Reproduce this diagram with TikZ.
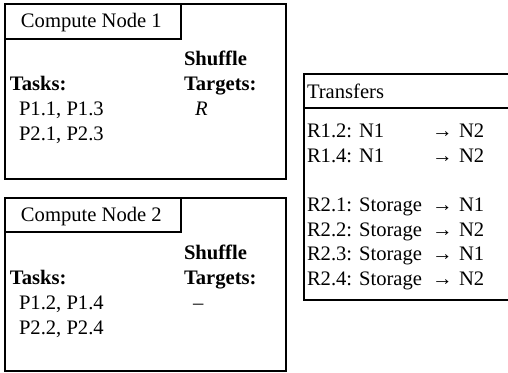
\documentclass[tikz,border=0pt]{standalone}
\usepackage{fontspec}
\setmainfont{Liberation Serif}
\usepackage{tikz}
\usetikzlibrary{positioning}
\tikzset{%
	box line/.style={
		draw,
		line width=1pt
	},
	cell text/.style={
		inner sep=0pt,
		outer sep=0pt,
		anchor=base west,
		font=\fontsize{15.45}{18.5}\selectfont
	},
}

\begin{document}
\begin{tikzpicture}[
			x=0.75pt, y=-0.75pt,
			every node/.style={cell text},
			head/.style={font=\fontsize{15.45}{18.5}\selectfont\bfseries}
			]
			
			\useasboundingbox (0,0) rectangle (508,373);
			
			% Compute node 1
			\draw[box line] (5,4) rectangle (286,179);
			\draw[box line] (5,4) rectangle (181,39);
			\node (title1) at (21,28) {Compute Node 1};
			\node[head] (shuf1) at (184,66) {Shuffle};
			\node[head] (targ1) at (184,91) {Targets:};
			\node[head] (tasks1) at (10,91) {Tasks:};
			\node (p11) at (19,116) {P1.1, P1.3};
			\node (p21) at (19,141) {P2.1, P2.3};
			\node (tgt1) at (195,116) {\itshape R};
			
			% Compute node 2
			\draw[box line] (5,198) rectangle (286,371);
			\draw[box line] (5,198) rectangle (181,232);
			\node (title2) at (21,222) {Compute Node 2};
			\node[head] (shuf2) at (184,260) {Shuffle};
			\node[head] (targ2) at (184,285) {Targets:};
			\node[head] (tasks2) at (10,285) {Tasks:};
			\node (p12) at (19,310) {P1.2, P1.4};
			\node (p22) at (19,335) {P2.2, P2.4};
			\node (tgt2) at (193,310) {–};
			
			% Transfers
			\draw[box line] (512,74) -- (304,74) -- (304,300) -- (512,300);
			\draw[box line] (304,108) -- (512,108);
			\node (trans) at (307,99) {Transfers};
			
			\node (r12) at (307,138) {R1.2: N1};
			\node (r14) at (307,163) {R1.4: N1};
			\node (r21) at (307,212) {R2.1: Storage};
			\node (r22) at (307,237) {R2.2: Storage};
			\node (r23) at (307,261) {R2.3: Storage};
			\node (r24) at (307,286) {R2.4: Storage};
			
			\node (a12) at (432,138) {→};
			\node (a14) at (432,163) {→};
			\node (a21) at (432,212) {→};
			\node (a22) at (432,237) {→};
			\node (a23) at (432,261) {→};
			\node (a24) at (432,286) {→};
			
			\node (d12) at (459,138) {N2};
			\node (d14) at (459,163) {N2};
			\node (d21) at (459,212) {N1};
			\node (d22) at (459,237) {N2};
			\node (d23) at (459,261) {N1};
			\node (d24) at (459,286) {N2};
			
		\end{tikzpicture}
\end{document}
